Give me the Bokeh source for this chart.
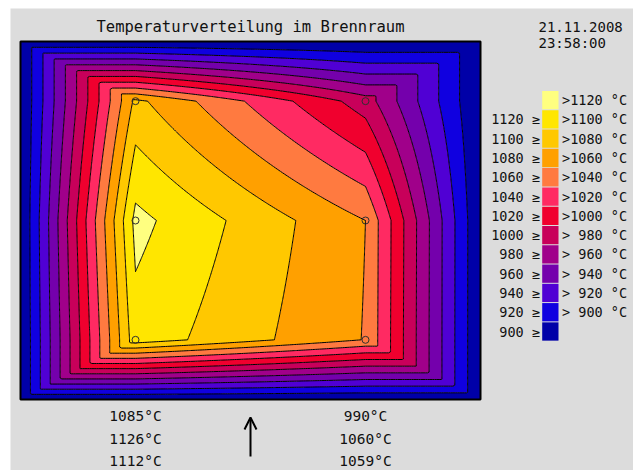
import numpy as np
from bokeh.plotting import figure
from bokeh.models import Range1d, Arrow, OpenHead
from bokeh.core.properties import value
from bokeh.embed import file_html
from bokeh.resources import INLINE

# ---------------- data ----------------
title_text = "Temperaturverteilung im Brennraum"
date_text = "21.11.2008"
time_text = "23:58:00"

sensor_x = [1.0, 3.0]            # chamber columns (left, right)
sensor_y = [5.0, 3.0, 1.0]       # chamber rows (top, middle, bottom)
temp_left = [1085, 1126, 1112]   # °C, left sensor column, top -> bottom
temp_right = [990, 1060, 1059]   # °C, right sensor column, top -> bottom
wall_temp = 880                  # °C at the chamber wall (estimated)

levels = [900, 920, 940, 960, 980, 1000, 1020, 1040, 1060, 1080, 1100, 1120]
band_colors = ["#0000a8", "#1000e0", "#5000d4", "#7400ac", "#a0008a", "#c8005a",
               "#f0002e", "#ff2a62", "#ff7a40", "#ffa000", "#ffc800", "#ffe600",
               "#ffff80"]

BG = "#dcdcdc"
FONT = "DejaVu Sans Mono"
TXT = "#111111"

# ---------------- layout constants (page pixels) ----------------
W, H = 633, 470
FRAME_L, FRAME_R, FRAME_T, FRAME_B = 20, 480, 41, 399
CH_W, CH_H = 4.0, 6.0
px_x = (FRAME_R - FRAME_L) / CH_W
px_y = (FRAME_B - FRAME_T) / CH_H

# ---------------- temperature field from the sensors ----------------
gx = np.linspace(0, CH_W, 201)
gy = np.linspace(0, CH_H, 301)
X, Y = np.meshgrid(gx, gy)
T = np.array([temp_left, temp_right], dtype=float).T   # rows top->bottom, cols left/right
xc = np.clip(X, sensor_x[0], sensor_x[1])
yc = np.clip(Y, sensor_y[2], sensor_y[0])
u = (xc - sensor_x[0]) / (sensor_x[1] - sensor_x[0])
r = [T[k, 0] * (1 - u) + T[k, 1] * u for k in range(3)]
w_up = (yc - sensor_y[1]) / (sensor_y[0] - sensor_y[1])
w_lo = (yc - sensor_y[2]) / (sensor_y[1] - sensor_y[2])
f_in = np.where(yc >= sensor_y[1], r[1] * (1 - w_up) + r[0] * w_up,
                r[2] * (1 - w_lo) + r[1] * w_lo)
dx = np.maximum(np.maximum(sensor_x[0] - X, X - sensor_x[1]), 0) / sensor_x[0]
dy = np.maximum(np.maximum(sensor_y[2] - Y, Y - sensor_y[0]), 0) / sensor_y[2]
t = np.clip(np.maximum(dx, dy), 0, 1)
Z = f_in + (wall_temp - f_in) * t

# ---------------- figure (frame = whole canvas) ----------------
p = figure(width=W, height=H, output_backend="svg", toolbar_location=None,
           x_range=Range1d(-FRAME_L / px_x, (W - FRAME_L) / px_x),
           y_range=Range1d(-(H - FRAME_B) / px_y, CH_H + FRAME_T / px_y),
           min_border=0, x_axis_location=None, y_axis_location=None)
p.extra_x_ranges = {"px": Range1d(0, W)}
p.extra_y_ranges = {"px": Range1d(H, 0)}
p.grid.visible = False
p.background_fill_color = "white"
p.border_fill_color = "white"
p.outline_line_color = None

# gray panel
p.quad(left=10, right=W, top=8, bottom=H, fill_color=BG, line_color=None,
       x_range_name="px", y_range_name="px")

# contour map
p.contour(gx, gy, Z, levels=[860] + levels + [1140], fill_color=band_colors,
          line_color="black", line_width=1)
p.quad(left=0, right=CH_W, bottom=0, top=CH_H, fill_color=None,
       line_color="black", line_width=2)

sx = [sensor_x[0]] * 3 + [sensor_x[1]] * 3
sy = sensor_y + sensor_y
p.scatter(sx, sy, marker="circle", size=7, fill_color=None, line_color="#303030", line_width=1)

# title
p.text(x=[CH_W / 2], y=[26.5], text=[title_text], text_align="center",
       text_baseline="alphabetic", text_font=value(FONT), text_font_size="15.5px",
       text_color=TXT, y_range_name="px")

# sensor readings below the chamber
label_rows_px = [415, 438.5, 460]
for cx, temps in ((sensor_x[0], temp_left), (sensor_x[1], temp_right)):
    p.text(x=[cx] * 3, y=label_rows_px, text=[f"{v}°C" for v in temps],
           text_align="center", text_baseline="middle", text_font=value(FONT),
           text_font_size="14.5px", text_color=TXT, y_range_name="px")

# flow arrow
p.add_layout(Arrow(end=OpenHead(size=12, line_width=2, line_color="black"),
                   x_start=CH_W / 2, y_start=456, x_end=CH_W / 2, y_end=417,
                   line_width=2, line_color="black", y_range_name="px"))

# legend
colors_desc = band_colors[::-1]
levels_desc = levels[::-1]
ROW0, ROWH = 99.64, 19.28
row_y = [ROW0 + ROWH * i for i in range(len(colors_desc))]
p.rect(x=[549.85] * len(row_y), y=row_y, width=16.3, height=18.3,
       fill_color=colors_desc, line_color=None, x_range_name="px", y_range_name="px")
p.text(x=[539.5] * len(levels_desc), y=row_y[1:],
       text=[f"{lv} ≥" for lv in levels_desc], text_align="right", text_baseline="middle",
       text_font=value(FONT), text_font_size="13.5px", text_color=TXT,
       x_range_name="px", y_range_name="px")
p.text(x=[561.5] * len(levels_desc), y=row_y[:-1],
       text=[f">{lv:>4} °C" for lv in levels_desc], text_align="left", text_baseline="middle",
       text_font=value(FONT), text_font_size="13.5px", text_color=TXT,
       x_range_name="px", y_range_name="px")

# date / time
p.text(x=[538, 538], y=[26, 42.5], text=[date_text, time_text],
       text_align="left", text_baseline="alphabetic",
       text_font=value(FONT), text_font_size="14px", text_color=TXT,
       x_range_name="px", y_range_name="px")

open("out.html", "w").write(file_html(p, INLINE))
